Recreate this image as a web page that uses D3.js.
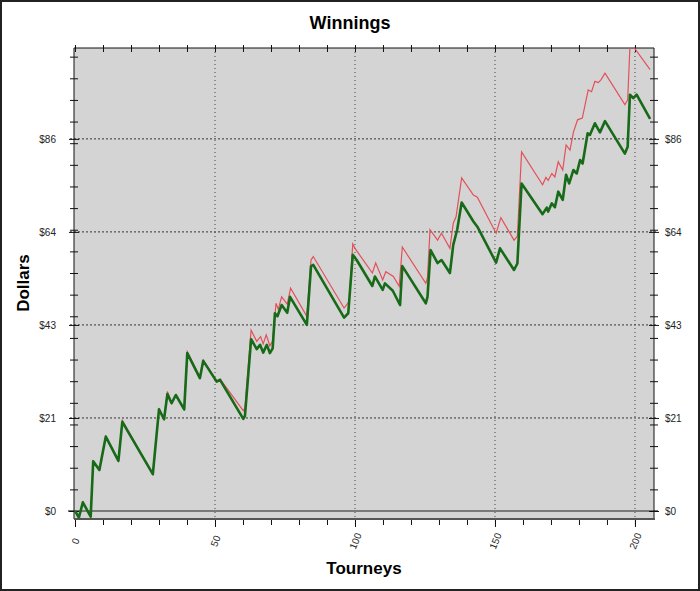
<!DOCTYPE html>
<html>
<head>
<meta charset="utf-8">
<script src="https://cdn.jsdelivr.net/npm/d3@7"></script>
<style>
  body { margin: 0; background: #fff; }
  svg { display: block; font-family: "Liberation Sans", Arial, sans-serif; }
</style>
</head>
<body>
<div id="chart"></div>
<script>
// tourney index and dollar value at each turning point
var greenTourney = [0,1.4,2.8,5.6,6.5,8.7,11,15.5,16.9,27.8,30,31.8,33,34.5,36,39,40.1,44.6,45.8,50.6,51.8,60.1,60.7,62.9,64.9,66.1,67.2,68.5,69.6,70.6,71.4,72.3,73.8,75.8,76.8,82.8,84.3,85.1,96.1,97.6,99.2,100.6,106.2,107.1,109.9,110.7,113.5,116.1,116.9,125.3,125.9,127,129.5,130.9,133.9,135.1,136.5,138.1,142.3,143.7,150.4,151.8,156.8,158,159.5,167,168.5,169,170.3,171.4,172.6,174.2,175.4,176.5,178,179.2,180.4,181.3,183.1,183.9,185.7,187.5,189.3,196.4,197.4,198.2,199.4,200.6,205.4];
var greenDollars = [0,-1.5,2,-1.3,11.5,9.5,17.2,11.6,20.6,8.5,23.5,21.2,27,24.9,26.8,23.5,36.5,30.7,34.7,29.9,30.3,21.3,22,39.7,37.4,38.4,36.6,38.4,36.5,37.6,45.7,45,47.6,45.8,49.5,43,56.6,56.9,44.7,45.7,59.2,58,52,54.2,51.1,52.6,50.9,47.6,56.6,48,49.5,60.3,57.3,58,55,61.5,65,71.3,66.9,65.7,57.4,60.7,55.7,57.2,75.7,68.6,70.1,69.2,71.1,70.2,73.8,71.9,77.7,75.7,78.8,78,81.1,80.3,87.3,86.9,89.6,87.5,90.1,82.6,84.2,96.2,95.4,96.2,90.6];

var redTourney = [0,1.4,2.8,5.6,6.5,8.7,11,15.5,16.9,27.8,30,31.8,33,34.5,36,39,40.1,44.6,45.8,50.6,51.8,60.1,60.7,62.9,64.9,66.3,67.2,68.3,69.6,70.6,71.8,72.6,73.8,75.8,77,82.8,84.3,85.1,96.1,97.9,99.2,100,106.2,107.4,109.9,111,113.7,115.8,116.9,125.3,125.9,126.8,129.5,130.9,133.9,135.1,136.1,138.1,142.3,143.7,150.4,152.1,156.8,158,159.5,167,168.2,169,170.3,171.4,172.6,174.2,175.4,176.8,178,179.5,181.2,183.3,184.5,185.7,186.9,187.9,189.3,196.4,197.4,198.2,199.8,205.4];
var redDollars = [0,-1.5,2,-1.3,11.5,9.5,17.2,11.6,20.9,8.5,23.5,21.2,27.6,24.9,26.8,23.5,36.8,30.9,34.9,30.1,30.5,23.2,23.8,41.8,39.2,40.3,38.6,40.7,38.2,39.3,48,46.6,49.5,47.8,51.5,45,58,58.8,46.9,48.4,61.7,60.7,55,57.3,53.4,55.3,54.2,51.9,61,52.6,54,65,62.6,64.2,60.7,66.5,68,77,73,72.5,64.2,67.8,62.6,63.5,83,75.4,77.1,76.4,78,77.2,80.7,78.8,84.6,83.4,87.5,90.4,90.8,97.3,96.9,99.3,99,99.7,101.2,93.9,95,107.3,107,102];

var xTicks = [0, 50, 100, 150, 200];
var yTicks = [0, 21.5, 43, 64.5, 86];

var W = 700, H = 591;
var m = { left: 74, right: 654, top: 48, bottom: 519 };

var svg = d3.select("#chart").append("svg")
    .attr("width", W)
    .attr("height", H);

svg.append("rect")
    .attr("x", 1).attr("y", 1)
    .attr("width", W - 2).attr("height", H - 2)
    .attr("fill", "#fff")
    .attr("stroke", "#222")
    .attr("stroke-width", 2);

var x = d3.scaleLinear().domain([-0.36, 206.8]).range([m.left, m.right]);
var y = d3.scaleLinear().domain([-1.85, 107]).range([m.bottom, m.top]);

// plot background
svg.append("rect")
    .attr("x", m.left).attr("y", m.top)
    .attr("width", m.right - m.left).attr("height", m.bottom - m.top)
    .attr("fill", "#d4d4d4");

// grid
svg.selectAll(".vgrid")
    .data(xTicks.slice(1))
    .enter().append("line")
    .attr("x1", function (d) { return x(d) }).attr("x2", function (d) { return x(d) })
    .attr("y1", m.top).attr("y2", m.bottom)
    .attr("stroke", "#444")
    .attr("stroke-width", 1)
    .attr("stroke-dasharray", "1,3");

svg.selectAll(".hgrid")
    .data(yTicks.slice(1))
    .enter().append("line")
    .attr("x1", m.left - 4).attr("x2", m.right + 4)
    .attr("y1", function (d) { return y(d) }).attr("y2", function (d) { return y(d) })
    .attr("stroke", "#333")
    .attr("stroke-width", 1)
    .attr("stroke-dasharray", "2,2");

// zero line
svg.append("line")
    .attr("x1", m.left - 6).attr("x2", m.right + 4)
    .attr("y1", y(0)).attr("y2", y(0))
    .attr("stroke", "#7a7a7a")
    .attr("stroke-width", 2);

// minor ticks, every $5 and every 10 tourneys
var minorY = d3.range(0, 106, 5);
var minorX = d3.range(0, 206, 10);

function crossTicks(g) {
    g.select(".domain").remove();
    g.selectAll(".tick text").remove();
    g.selectAll(".tick line").attr("stroke", "#111");
}

svg.append("g")
    .attr("transform", "translate(" + m.left + ",0)")
    .call(d3.axisLeft(y).tickValues(minorY).tickSize(4))
    .call(crossTicks)
    .selectAll(".tick line").attr("x1", 4);

svg.append("g")
    .attr("transform", "translate(" + m.right + ",0)")
    .call(d3.axisRight(y).tickValues(minorY).tickSize(4))
    .call(crossTicks)
    .selectAll(".tick line").attr("x1", -4);

svg.append("g")
    .attr("transform", "translate(0," + m.top + ")")
    .call(d3.axisTop(x).tickValues(minorX).tickSize(3))
    .call(crossTicks)
    .selectAll(".tick line").attr("y1", 4);

svg.append("g")
    .attr("transform", "translate(0," + m.bottom + ")")
    .call(d3.axisBottom(x).tickValues(minorX).tickSize(6))
    .call(crossTicks);

// labelled axes
var fmt = function (d) { return "$" + Math.floor(d) };

var yl = svg.append("g")
    .attr("transform", "translate(" + m.left + ",0)")
    .call(d3.axisLeft(y).tickValues(yTicks).tickSize(5).tickPadding(13).tickFormat(fmt));
yl.select(".domain").remove();
yl.selectAll("text").style("font-size", "10px").attr("fill", "#222");
yl.selectAll(".tick line").attr("x1", 5).attr("stroke", "#111");

var yr = svg.append("g")
    .attr("transform", "translate(" + m.right + ",0)")
    .call(d3.axisRight(y).tickValues(yTicks).tickSize(5).tickPadding(6).tickFormat(fmt));
yr.select(".domain").remove();
yr.selectAll("text").style("font-size", "10px").attr("fill", "#222");
yr.selectAll(".tick line").attr("x1", -5).attr("stroke", "#111");

var xl = svg.append("g")
    .attr("transform", "translate(0," + m.bottom + ")")
    .call(d3.axisBottom(x).tickValues(xTicks).tickSize(8).tickFormat(d3.format("d")));
xl.select(".domain").remove();
xl.selectAll(".tick line").attr("stroke", "#111");
xl.selectAll("text")
    .attr("y", 0).attr("dy", "0.35em")
    .attr("text-anchor", "middle")
    .attr("transform", "translate(0,22) rotate(-68)")
    .style("font-size", "10px")
    .attr("fill", "#222");

// frame lines
svg.append("line").attr("x1", m.left).attr("x2", m.left).attr("y1", m.top).attr("y2", m.bottom)
    .attr("stroke", "#111").attr("stroke-width", 1);
svg.append("line").attr("x1", m.right).attr("x2", m.right).attr("y1", m.top).attr("y2", m.bottom)
    .attr("stroke", "#111").attr("stroke-width", 1);
svg.append("line").attr("x1", m.left).attr("x2", m.right).attr("y1", m.top).attr("y2", m.top)
    .attr("stroke", "#111").attr("stroke-width", 1);
svg.append("line").attr("x1", m.left).attr("x2", m.right + 1).attr("y1", m.bottom).attr("y2", m.bottom)
    .attr("stroke", "#555").attr("stroke-width", 2);

// series
svg.append("clipPath").attr("id", "clip")
    .append("rect").attr("x", m.left).attr("y", m.top)
    .attr("width", m.right - m.left).attr("height", m.bottom - m.top);

var line = d3.line()
    .x(function (d) { return x(d[0]) })
    .y(function (d) { return y(d[1]) });

svg.append("path")
    .datum(d3.zip(redTourney, redDollars))
    .attr("clip-path", "url(#clip)")
    .attr("fill", "none")
    .attr("stroke", "#e4505a")
    .attr("stroke-width", 1.2)
    .attr("d", line);

svg.append("path")
    .datum(d3.zip(greenTourney, greenDollars))
    .attr("clip-path", "url(#clip)")
    .attr("fill", "none")
    .attr("stroke", "#176a17")
    .attr("stroke-width", 2.6)
    .attr("stroke-linejoin", "round")
    .attr("d", line);

// titles
svg.append("text")
    .attr("x", 350).attr("y", 29)
    .attr("text-anchor", "middle")
    .style("font-size", "18px")
    .style("font-weight", "bold")
    .text("Winnings");

svg.append("text")
    .attr("transform", "translate(29,283) rotate(-90)")
    .attr("text-anchor", "middle")
    .style("font-size", "17px")
    .style("font-weight", "bold")
    .text("Dollars");

svg.append("text")
    .attr("x", 364).attr("y", 574)
    .attr("text-anchor", "middle")
    .style("font-size", "17px")
    .style("font-weight", "bold")
    .text("Tourneys");
</script>
</body>
</html>
